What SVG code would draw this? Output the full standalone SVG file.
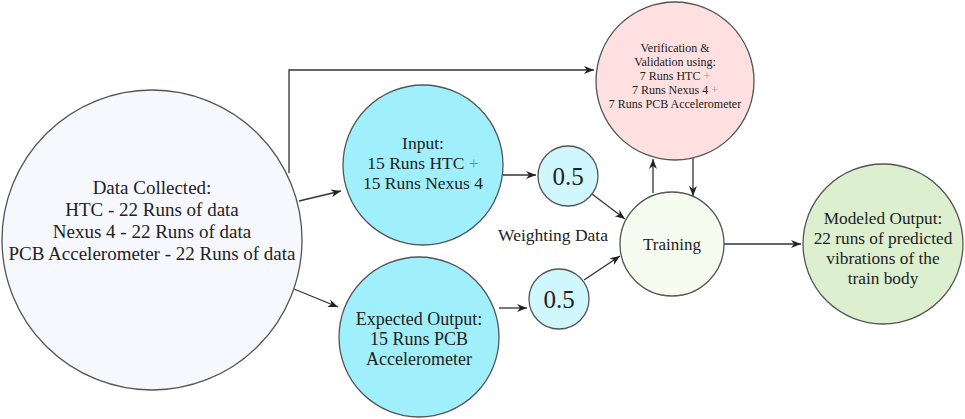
<svg xmlns="http://www.w3.org/2000/svg" width="965" height="419" viewBox="0 0 965 419">
<style>
.n{stroke:#555;stroke-width:1.3}
.t{fill:#222;text-anchor:middle}
.c{fill:none;stroke:#333;stroke-width:1.3}
</style>
<defs>
<marker id="ah" markerWidth="12" markerHeight="10" refX="10" refY="5" orient="auto" markerUnits="userSpaceOnUse">
<path d="M0,1 L10,5 L0,9 L3,5 Z" fill="#222"/>
</marker>
</defs>
<rect width="965" height="419" fill="#fff"/>
<g id="connectors">
<path class="c" d="M289,173 V70 H594" marker-end="url(#ah)"/>
<path class="c" d="M299,201 L341,191" marker-end="url(#ah)"/>
<path class="c" d="M294,289 L338,307" marker-end="url(#ah)"/>
<path class="c" d="M503,175 H536" marker-end="url(#ah)"/>
<path class="c" d="M592,194 L625,219" marker-end="url(#ah)"/>
<path class="c" d="M499,308 H527" marker-end="url(#ah)"/>
<path class="c" d="M584,280 L620,256" marker-end="url(#ah)"/>
<path class="c" d="M653,193 V159" marker-end="url(#ah)"/>
<path class="c" d="M693,158 V196" marker-end="url(#ah)"/>
<path class="c" d="M724,244 H801" marker-end="url(#ah)"/>
</g>
<g font-family="'Liberation Serif', 'DejaVu Serif', serif">
<g id="data">
<circle class="n" cx="152" cy="240" r="150" fill="#f7f8fe"/>
<text class="t" font-size="19"><tspan x="152" y="194">Data Collected:</tspan><tspan x="152" y="216">HTC - 22 Runs of data</tspan><tspan x="152" y="238">Nexus 4 - 22 Runs of data</tspan><tspan x="152" y="260">PCB Accelerometer - 22 Runs of data</tspan></text>
</g>
<g id="input">
<circle class="n" cx="423" cy="165" r="80" fill="#9ff0fc"/>
<text class="t" font-size="17.5"><tspan x="423" y="149">Input:</tspan><tspan x="423" y="169">15 Runs HTC <tspan fill="#888">+</tspan></tspan><tspan x="423" y="189">15 Runs Nexus 4</tspan></text>
</g>
<g id="expected">
<circle class="n" cx="419" cy="337" r="80" fill="#9ff0fc"/>
<text class="t" font-size="18"><tspan x="419" y="325">Expected Output:</tspan><tspan x="419" y="345">15 Runs PCB</tspan><tspan x="419" y="365">Accelerometer</tspan></text>
</g>
<g id="w1">
<circle class="n" cx="568" cy="176" r="30" fill="#d0f7fd"/>
<text class="t" font-size="25" x="568" y="185">0.5</text>
</g>
<g id="w2">
<circle class="n" cx="559" cy="299" r="30" fill="#d0f7fd"/>
<text class="t" font-size="25" x="559" y="308">0.5</text>
</g>
<g id="verification">
<circle class="n" cx="675" cy="81" r="79" fill="#fde0df"/>
<text class="t" font-size="12"><tspan x="675" y="52">Verification &amp;</tspan><tspan x="675" y="66">Validation using:</tspan><tspan x="675" y="80">7 Runs HTC <tspan fill="#999">+</tspan></tspan><tspan x="675" y="94">7 Runs Nexus 4 <tspan fill="#999">+</tspan></tspan><tspan x="675" y="108">7 Runs PCB Accelerometer</tspan></text>
</g>
<g id="training">
<circle class="n" cx="672" cy="244" r="52" fill="#f6fdf0"/>
<text class="t" font-size="17" x="672" y="250">Training</text>
</g>
<g id="modeled">
<circle class="n" cx="883" cy="244" r="80" fill="#dcf0d0"/>
<text class="t" font-size="17.3"><tspan x="883" y="224">Modeled Output:</tspan><tspan x="883" y="244">22 runs of predicted</tspan><tspan x="883" y="264">vibrations of the</tspan><tspan x="883" y="284">train body</tspan></text>
</g>
<text id="weighting" class="t" font-size="17.5" x="553" y="241">Weighting Data</text>
</g>
</svg>
